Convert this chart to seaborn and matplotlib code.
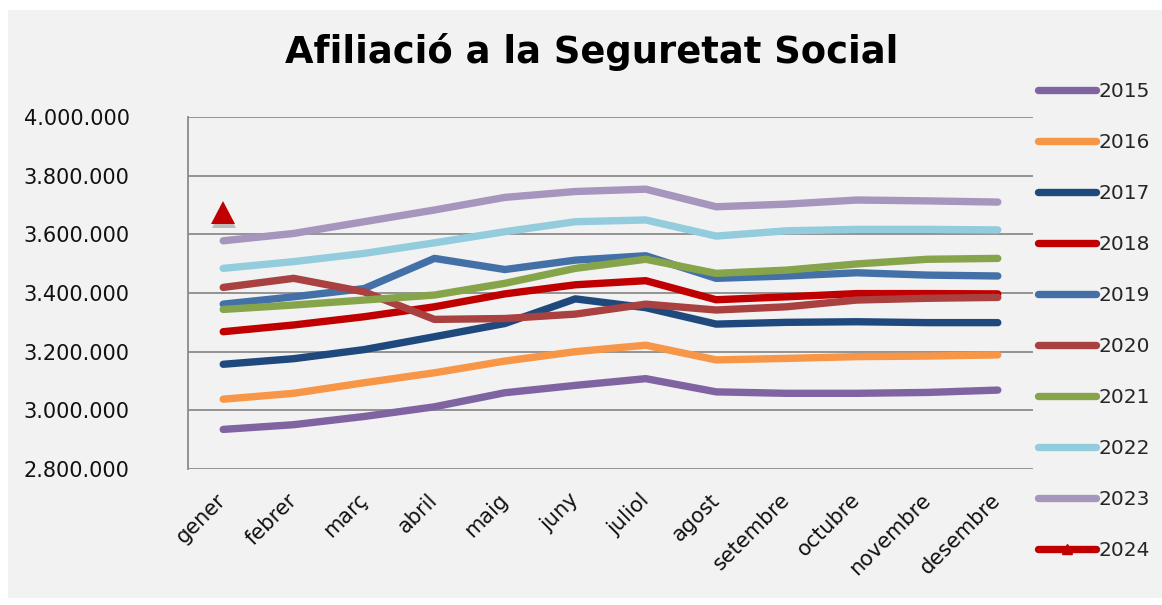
import numpy as np
import pandas as pd
import matplotlib
matplotlib.use("Agg")
import matplotlib.pyplot as plt
import matplotlib.patheffects as pe
from matplotlib.lines import Line2D
from matplotlib.patches import Rectangle
from matplotlib.ticker import FuncFormatter
import seaborn as sns

# months and yearly series (affiliates)
mesos = ["gener", "febrer", "març", "abril", "maig", "juny",
         "juliol", "agost", "setembre", "octubre", "novembre", "desembre"]

anys = ["2015", "2016", "2017", "2018", "2019", "2020", "2021", "2022", "2023"]

v2015 = [2935000, 2951000, 2979000, 3012000, 3060000, 3085000, 3108000, 3063000, 3058000, 3058000, 3061000, 3069000]
v2016 = [3038000, 3058000, 3094000, 3128000, 3168000, 3200000, 3222000, 3172000, 3177000, 3183000, 3185000, 3189000]
v2017 = [3157000, 3176000, 3207000, 3251000, 3296000, 3380000, 3350000, 3294000, 3300000, 3302000, 3299000, 3299000]
v2018 = [3268000, 3291000, 3319000, 3353000, 3397000, 3428000, 3442000, 3377000, 3387000, 3398000, 3398000, 3397000]
v2019 = [3362000, 3387000, 3415000, 3518000, 3480000, 3512000, 3527000, 3450000, 3458000, 3469000, 3461000, 3458000]
v2020 = [3419000, 3450000, 3404000, 3310000, 3313000, 3328000, 3362000, 3342000, 3353000, 3376000, 3382000, 3385000]
v2021 = [3344000, 3359000, 3376000, 3393000, 3433000, 3484000, 3515000, 3467000, 3478000, 3499000, 3515000, 3518000]
v2022 = [3484000, 3507000, 3535000, 3571000, 3609000, 3643000, 3649000, 3594000, 3612000, 3617000, 3617000, 3615000]
v2023 = [3578000, 3603000, 3643000, 3683000, 3726000, 3746000, 3754000, 3694000, 3703000, 3717000, 3714000, 3710000]
v2024 = [3675000]  # only gener so far

series = [v2015, v2016, v2017, v2018, v2019, v2020, v2021, v2022, v2023]

colors = ["#8064a2", "#f79646", "#1f497d", "#c00000", "#4470a8",
          "#a8413f", "#86a44a", "#93cddd", "#a695bc"]
color_2024 = "#c00000"

y_ticks = [2800000, 3000000, 3200000, 3400000, 3600000, 3800000, 4000000]

rows = []
for year, vals in zip(anys, series):
    for m, v in zip(mesos, vals):
        rows.append({"mes": m, "valor": v, "any": year})
df = pd.DataFrame(rows)

sns.set_style("white")
plt.rcParams["font.family"] = ["DejaVu Sans"]

bg = "#f2f2f2"
grid_c = "#8c8c8c"

fig = plt.figure(figsize=(11.62, 6.05), dpi=100)
fig.patch.set_facecolor("white")
fig.patches.append(Rectangle((8 / 1162, 7 / 605), 1 - 8 / 1162, 588 / 605,
                             transform=fig.transFigure, facecolor=bg,
                             edgecolor="none", zorder=-10))

ax = fig.add_axes([188 / 1162, 136 / 605, 845 / 1162, 352 / 605])
ax.set_facecolor(bg)

sns.lineplot(data=df, x="mes", y="valor", hue="any", palette=colors,
             linewidth=5.3, sort=False, legend=False, ax=ax,
             solid_capstyle="round", solid_joinstyle="round", zorder=3)

# 2024: single point with a soft drop shadow
ax.plot([mesos[0]], v2024, marker="^", markersize=17, color=color_2024,
        markeredgewidth=0, linestyle="none", zorder=4,
        path_effects=[pe.SimplePatchShadow(offset=(0.5, -3), shadow_rgbFace="black", alpha=0.22),
                      pe.Normal()])

ax.set_xlim(-0.5, len(mesos) - 0.5)
ax.set_ylim(2800000, 4000000)
ax.set_yticks(y_ticks)
ax.yaxis.set_major_formatter(FuncFormatter(lambda v, p: f"{int(v):,}".replace(",", ".")))
ax.grid(axis="y", color=grid_c, linewidth=1.3)
ax.set_axisbelow(True)
for s in ["top", "right", "bottom"]:
    ax.spines[s].set_visible(False)
ax.spines["left"].set_color(grid_c)
ax.spines["left"].set_linewidth(1.3)
ax.set_xlabel("")
ax.set_ylabel("")

ax.tick_params(axis="y", length=0, pad=42, labelsize=15, labelcolor="#111111")
ax.tick_params(axis="x", length=0, pad=20, labelsize=15, labelcolor="#111111")
for lab in ax.get_xticklabels():
    lab.set_rotation(45)
    lab.set_ha("right")
    lab.set_va("center")
    lab.set_rotation_mode("anchor")

fig.text(592 / 1162, 1 - 52 / 605, "Afiliació a la Seguretat Social",
         ha="center", va="center", fontsize=26.6, fontweight="bold", color="black")

handles = [Line2D([], [], color=c, linewidth=5.3, solid_capstyle="round") for c in colors]
handles.append(Line2D([], [], color=color_2024, linewidth=5.3, solid_capstyle="round",
                      marker="^", markersize=7))
labels = anys + ["2024"]
fig.legend(handles, labels, loc="upper left", bbox_to_anchor=(1030 / 1162, 1 - 74 / 605),
           frameon=False, fontsize=14.5, handlelength=2.9, handletextpad=0.1,
           labelspacing=1.59, borderaxespad=0)

fig.savefig("out.png", dpi=100, facecolor=fig.get_facecolor())
